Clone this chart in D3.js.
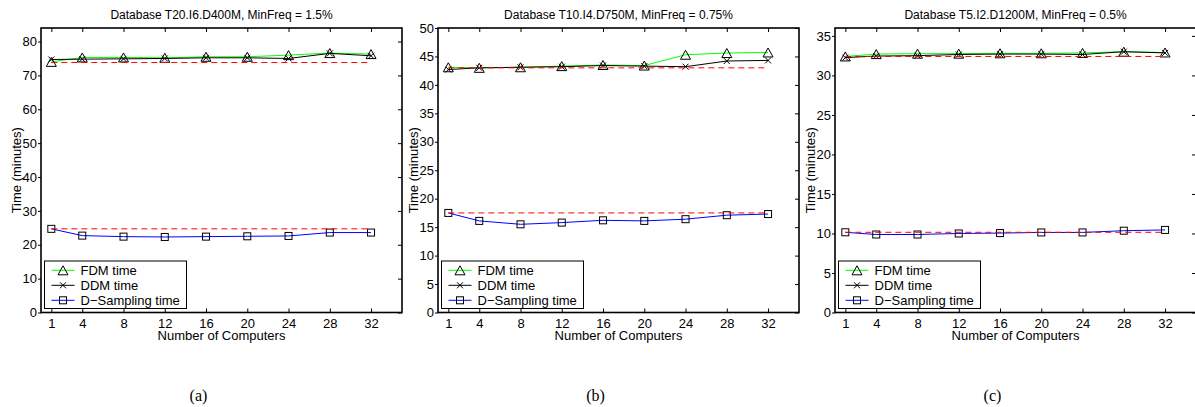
<!DOCTYPE html>
<meta charset="utf-8">
<style>
    body { margin: 0; background: #fff; }
    text { font-family: "Liberation Sans", Arial, sans-serif; fill: #000; }
    .tick text { font-size: 13px; font-family: "Liberation Sans", Arial, sans-serif; }
    .caption { font-family: "Liberation Serif", "DejaVu Serif", serif; font-size: 16px; }
</style>
<svg width="1195" height="407"></svg>
<script src="https://d3js.org/d3.v7.min.js"></script>
<script>
    // number of computers on the x axis
    var computers = [1, 4, 8, 12, 16, 20, 24, 28, 32];
    var xTicks = [1, 4, 8, 12, 16, 20, 24, 28, 32];

    var titles = ["Database T20.I6.D400M, MinFreq = 1.5%",
                  "Database T10.I4.D750M, MinFreq = 0.75%",
                  "Database T5.I2.D1200M, MinFreq = 0.5%"];
    var captions = ["(a)", "(b)", "(c)"];
    var seriesNames = ["FDM time", "DDM time", "D\u2212Sampling time"];

    // panel (a)
    var fdmA = [74.0, 75.3, 75.3, 75.2, 75.5, 75.5, 76.0, 76.6, 76.3];
    var ddmA = [74.7, 74.8, 74.9, 75.0, 75.2, 75.2, 75.0, 76.5, 75.8];
    var dsA  = [24.7, 22.7, 22.4, 22.3, 22.4, 22.5, 22.6, 23.6, 23.6];
    var refA = [73.8, 24.7];
    var yTicksA = [0, 10, 20, 30, 40, 50, 60, 70, 80];

    // panel (b)
    var fdmB = [43.1, 43.0, 43.1, 43.3, 43.5, 43.4, 45.3, 45.6, 45.7];
    var ddmB = [42.7, 43.0, 43.1, 43.2, 43.4, 43.3, 43.2, 44.2, 44.3];
    var dsB  = [17.5, 16.1, 15.5, 15.8, 16.2, 16.1, 16.4, 17.1, 17.3];
    var refB = [43.0, 17.5];
    var yTicksB = [0, 5, 10, 15, 20, 25, 30, 35, 40, 45, 50];

    // panel (c)
    var fdmC = [32.4, 32.7, 32.75, 32.75, 32.8, 32.8, 32.85, 33.0, 32.9];
    var ddmC = [32.25, 32.45, 32.5, 32.65, 32.7, 32.7, 32.65, 33.0, 32.85];
    var dsC  = [10.15, 9.87, 9.87, 10.0, 10.05, 10.13, 10.13, 10.35, 10.45];
    var refC = [32.4, 10.15];
    var yTicksC = [0, 5, 10, 15, 20, 25, 30, 35];

    var yMax = [84, 50, 36];

    var panels = [
        {fdm: fdmA, ddm: ddmA, ds: dsA, ref: refA, yTicks: yTicksA},
        {fdm: fdmB, ddm: ddmB, ds: dsB, ref: refB, yTicks: yTicksB},
        {fdm: fdmC, ddm: ddmC, ds: dsC, ref: refC, yTicks: yTicksC}
    ];

    var svg = d3.select("svg");
    var plotTop = 28, plotBottom = 312.5, pw = 361, step = 397, left0 = 41;

    function marker(g, kind, cx, cy) {
        if (kind === "tri") {
            g.append("path")
                .attr("d", "M" + (cx - 5) + "," + (cy + 4.5) + "L" + (cx + 5) + "," + (cy + 4.5) + "L" + cx + "," + (cy - 4.5) + "Z")
                .attr("fill", "none").attr("stroke", "#000").attr("stroke-width", 1);
        } else if (kind === "x") {
            g.append("path")
                .attr("d", "M" + (cx - 3) + "," + (cy - 3) + "L" + (cx + 3) + "," + (cy + 3) + "M" + (cx - 3) + "," + (cy + 3) + "L" + (cx + 3) + "," + (cy - 3))
                .attr("fill", "none").attr("stroke", "#000").attr("stroke-width", 1);
        } else {
            g.append("rect")
                .attr("x", cx - 3.5).attr("y", cy - 3.5).attr("width", 7).attr("height", 7)
                .attr("fill", "none").attr("stroke", "#000").attr("stroke-width", 1);
        }
    }

    panels.forEach(function(p, i) {
        var left = left0 + i * step;
        var x = d3.scaleLinear().domain([0, 35]).range([left, left + pw]);
        var y = d3.scaleLinear().domain([0, yMax[i]]).range([plotBottom, plotTop]);
        var g = svg.append("g");

        var series = [
            {vals: p.fdm, color: "#00ff00", mark: "tri"},
            {vals: p.ddm, color: "#000000", mark: "x"},
            {vals: p.ds, color: "#0000ff", mark: "sq"}
        ];

        var line = d3.line()
                .x(function(d, j) { return x(computers[j]); })
                .y(function(d) { return y(d); });

        series.forEach(function(s) {
            g.append("path")
                    .datum(s.vals)
                    .attr("d", line)
                    .attr("fill", "none")
                    .attr("stroke", s.color)
                    .attr("stroke-width", 1);
        });
        series.forEach(function(s) {
            s.vals.forEach(function(v, j) { marker(g, s.mark, x(computers[j]), y(v)); });
        });

        // red dashed reference lines (single-computer time)
        p.ref.forEach(function(r) {
            g.append("line")
                    .attr("x1", x(computers[0])).attr("x2", x(computers[computers.length - 1]))
                    .attr("y1", y(r)).attr("y2", y(r))
                    .attr("stroke", "#ff0000").attr("stroke-width", 1)
                    .attr("stroke-dasharray", "6,4");
        });

        // axes
        g.append("g").attr("transform", "translate(0," + plotBottom + ")")
                .call(d3.axisBottom(x).tickValues(xTicks).tickSize(-4).tickPadding(6))
                .call(function(a) { a.select(".domain").remove(); });
        g.append("g").attr("transform", "translate(0," + plotTop + ")")
                .call(d3.axisTop(x).tickValues(xTicks).tickSize(-4).tickFormat(""))
                .call(function(a) { a.select(".domain").remove(); });
        g.append("g").attr("transform", "translate(" + left + ",0)")
                .call(d3.axisLeft(y).tickValues(p.yTicks).tickSize(3).tickPadding(1))
                .call(function(a) { a.select(".domain").remove(); });
        g.append("g").attr("transform", "translate(" + (left + pw) + ",0)")
                .call(d3.axisRight(y).tickValues(p.yTicks).tickSize(-4).tickFormat(""))
                .call(function(a) { a.select(".domain").remove(); });
        g.selectAll(".tick line").attr("stroke", "#000");
        g.selectAll(".tick text").attr("fill", "#000");

        g.append("rect")
                .attr("x", left).attr("y", plotTop)
                .attr("width", pw).attr("height", plotBottom - plotTop)
                .attr("fill", "none").attr("stroke", "#000").attr("stroke-width", 1.6);

        // labels
        g.append("text")
                .attr("x", left + pw / 2).attr("y", 19)
                .attr("text-anchor", "middle").style("font-size", "12px")
                .text(titles[i]);
        g.append("text")
                .attr("x", left + pw / 2).attr("y", plotBottom + 27)
                .attr("text-anchor", "middle").style("font-size", "13px")
                .text("Number of Computers");
        g.append("text")
                .attr("transform", "translate(" + (left - 20.5) + "," + ((plotTop + plotBottom) / 2) + ") rotate(-90)")
                .attr("text-anchor", "middle").style("font-size", "13px")
                .text("Time (minutes)");

        // legend
        var lx = left + 3.5, ly = plotBottom - 51.5;
        var lg = g.append("g");
        lg.append("rect")
                .attr("x", lx).attr("y", ly).attr("width", 142).attr("height", 47.5)
                .attr("fill", "#fff").attr("stroke", "#000").attr("stroke-width", 1);
        series.forEach(function(s, k) {
            var ry = ly + 9.3 + k * 15;
            lg.append("line")
                    .attr("x1", lx + 7).attr("x2", lx + 30)
                    .attr("y1", ry).attr("y2", ry)
                    .attr("stroke", s.color).attr("stroke-width", 1);
            marker(lg, s.mark, lx + 18.5, ry);
            lg.append("text")
                    .attr("x", lx + 36).attr("y", ry)
                    .attr("dy", "0.35em").style("font-size", "13px")
                    .text(seriesNames[k]);
        });

        svg.append("text")
                .attr("class", "caption")
                .attr("x", 198.5 + i * step).attr("y", 401)
                .attr("text-anchor", "middle")
                .text(captions[i]);
    });
</script>
